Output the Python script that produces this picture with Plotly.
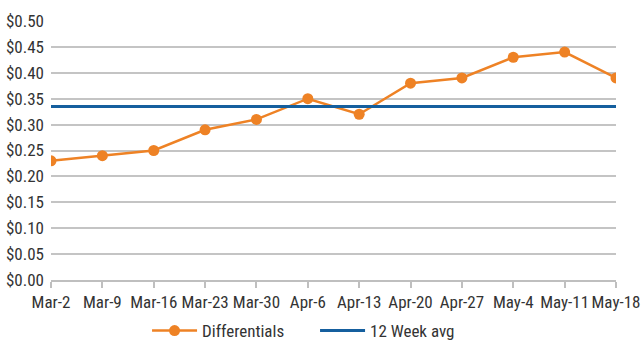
import plotly.graph_objects as go

weeks = ["Mar-2", "Mar-9", "Mar-16", "Mar-23", "Mar-30", "Apr-6", "Apr-13",
         "Apr-20", "Apr-27", "May-4", "May-11", "May-18"]
differentials = [0.23, 0.24, 0.25, 0.29, 0.31, 0.35, 0.32, 0.38, 0.39, 0.43, 0.44, 0.39]
avg_value = sum(differentials) / len(differentials)
twelve_week_avg = [avg_value] * len(weeks)

y_ticks = [i * 0.05 for i in range(11)]
y_labels = [f"${v:.2f}" for v in y_ticks]

xpos = list(range(len(weeks)))
FONT = "Liberation Sans Narrow, Arial Narrow, Roboto Condensed, Liberation Sans, sans-serif"

fig = go.Figure()
fig.add_trace(go.Scatter(
    x=xpos, y=differentials, name="Differentials", mode="lines+markers",
    line=dict(color="#ee8225", width=2.5),
    marker=dict(color="#ee8225", size=11),
))
fig.add_trace(go.Scatter(
    x=xpos, y=twelve_week_avg, name="12 Week avg", mode="lines",
    line=dict(color="#155f9e", width=3),
))

fig.update_layout(
    width=641, height=343,
    margin=dict(l=51, r=25, t=21, b=63, autoexpand=False),
    paper_bgcolor="white", plot_bgcolor="white",
    font=dict(family=FONT, size=17, color="#333333"),
    showlegend=True,
    legend=dict(orientation="h", x=0.17, xanchor="left",
                yref="container", y=0.035, yanchor="middle",
                font=dict(size=17, color="#333333"), itemwidth=45,
                entrywidth=108, entrywidthmode="pixels",
                traceorder="normal"),
    xaxis=dict(
        range=[0, len(weeks) - 1], tickvals=xpos, ticktext=weeks,
        showgrid=False, zeroline=False,
        showline=True, linecolor="#bfbfbf", linewidth=1.5,
        ticks="outside", ticklen=6, tickcolor="#bfbfbf", tickwidth=1.5,
        tickfont=dict(size=17, color="#333333"),
    ),
    yaxis=dict(
        range=[0, 0.5], tickvals=y_ticks, ticktext=y_labels,
        showgrid=True, gridcolor="#c4c4c4", gridwidth=1.5,
        zeroline=False, showline=False, ticks="",
        ticklabelstandoff=6,
        tickfont=dict(size=17, color="#333333"),
    ),
)

fig.write_html("out.html")
